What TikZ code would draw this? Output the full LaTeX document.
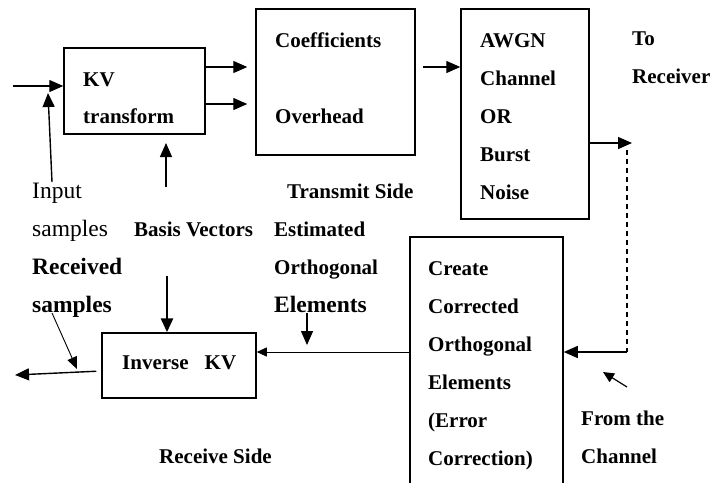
\documentclass[tikz,border=0pt]{standalone}
\usepackage{fontspec}
\setmainfont{Liberation Serif}
\usetikzlibrary{arrows.meta}

\begin{document}
\begin{tikzpicture}[x=1pt, y=-1pt,
    box/.style={draw, line width=1.5pt, inner sep=0pt},
    lbl/.style={anchor=base west, align=left, inner sep=0pt, font=\fontsize{21}{38}\selectfont\bfseries},
    big/.style={lbl, font=\fontsize{23.5}{38}\selectfont\bfseries},
    arr/.style={line width=1.4pt, -{Triangle[length=14pt, width=12pt]}}]
    \useasboundingbox (0,0) rectangle (720,482);
    % blocks
    \node[box, minimum width=141pt, minimum height=86pt] (kv) at (134.5,91) {};
    \node[box, minimum width=159pt, minimum height=146pt] (coef) at (335.5,82) {};
    \node[box, minimum width=128pt, minimum height=210pt] (awgn) at (525,114) {};
    \node[box, minimum width=153pt, minimum height=260pt] (corr) at (486.5,367) {};
    \node[box, minimum width=154pt, minimum height=65pt] (ikv) at (179,365.5) {};
    % texts (placed at the baseline of their last line)
    \node[lbl] (kvtxt) at (83,123) {KV\\[-1pt]transform};
    \node[lbl] (coeftxt) at (275,123) {Coefficients\\[38pt]Overhead};
    \node[lbl] (awgntxt) at (480,199) {AWGN\\Channel\\OR\\Burst\\Noise};
    \node[lbl] (torx) at (632,83) {To\\Receiver};
    \node[lbl] (corrtxt) at (428,465) {Create\\Corrected\\Orthogonal\\Elements\\(Error\\Correction)};
    \node[lbl] (fromch) at (581,463) {From the\\Channel};
    \node[lbl] (ikvtxt) at (122,369) {Inverse\hspace{16pt}KV};
    \node[lbl, font=\fontsize{23.5}{38}\selectfont] (input) at (32,236) {Input\\samples};
    \node[lbl] (basis) at (134,236) {Basis Vectors};
    \node[lbl] (tx) at (287,198) {Transmit Side};
    \node[lbl] (est) at (274,312) {Estimated\\Orthogonal\\{\fontsize{23.5}{38}\selectfont Elements}};
    \node[big] (rxs) at (32,312) {Received\\samples};
    \node[lbl] (rx) at (159,463) {Receive Side};
    % free ends
    \coordinate (src) at (13,86);
    \coordinate (intail) at (52,182);
    \coordinate (inhead) at (48,93);
    \coordinate (bvtail) at (166,187);
    \coordinate (bvhead) at (166,143);
    \coordinate (ch) at (627,143);
    \coordinate (fb) at (627,352);
    \coordinate (fctail) at (627,387);
    \coordinate (fchead) at (603,372);
    \coordinate (bv2) at (167,276);
    \coordinate (eltail) at (307,313);
    \coordinate (elhead) at (307,345);
    \coordinate (rstail) at (52,313);
    \coordinate (rshead) at (77,369);
    \coordinate (out) at (15,375);
    % transmit side
    \draw[arr] (src) -- (src -| kv.west);
    \draw[arr] (intail) -- (inhead);
    \draw[arr] (bvtail) -- (bvhead);
    \draw[arr, shorten >=8pt] (kv.east |- 0,67) -- (coef.west |- 0,67);
    \draw[arr, shorten >=8pt] (kv.east |- 0,104) -- (coef.west |- 0,104);
    \draw[arr, shorten <=7pt] (coef.east |- 0,67) -- (awgn.west |- 0,67);
    \draw[arr, shorten >=-5pt] (awgn.east |- ch) -- (ch);
    % channel to receiver
    \draw[line width=1.4pt, dash pattern=on 5pt off 4pt] (ch |- 0,150) -- (fb);
    \draw[arr] (fb) -- (fb -| corr.east);
    \draw[arr, line width=1.2pt, -{Triangle[length=11pt, width=10pt]}] (fctail) -- (fchead);
    % receive side
    \draw[line width=0.7pt, -{Triangle[length=10pt, width=9pt]}] (fb -| corr.west) -- (fb -| ikv.east);
    \draw[arr, line width=2.8pt] (bv2) -- (bv2 |- ikv.north);
    \draw[arr] (eltail) -- (elhead);
    \draw[line width=0.9pt, -{Triangle[length=12pt, width=10pt]}] (rstail) -- (rshead);
    \draw[arr, shorten <=5pt] (ikv.west |- 0,371) -- (out);
\end{tikzpicture}
\end{document}
